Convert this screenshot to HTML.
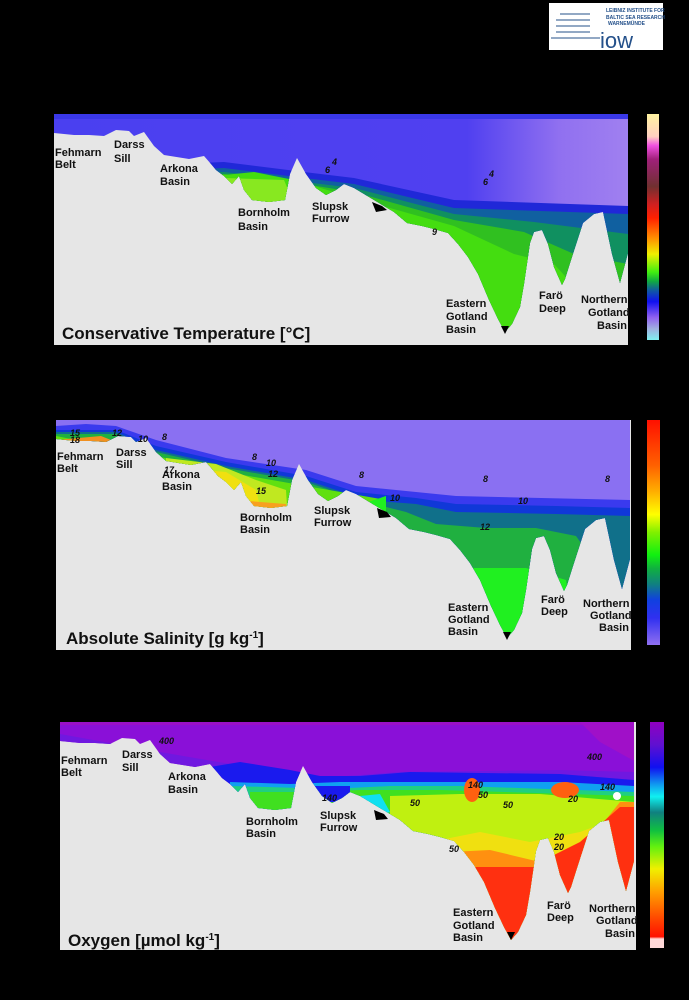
<!DOCTYPE html>
<html><head><meta charset="utf-8"><style>
html,body{margin:0;padding:0;background:#000;}
svg{display:block}
text{font-family:"Liberation Sans",Arial,sans-serif;font-weight:bold;fill:#111}
.l{font-size:11px}
.t{font-size:17px}
.c{font-size:9px;font-style:italic}
</style></head><body>
<svg width="689" height="1000" viewBox="0 0 689 1000" xmlns="http://www.w3.org/2000/svg">
<defs>
<clipPath id="water">
<path d="M0,0 L574,0 L574,139 L566,169 L558,140 L549,98 L540,100 L529,109 L517,146 L511,165 L508,171 L500,153 L494,130 L488,116 L480,118 L476,129 L470,170 L466,193 L458,210 L451,218 L444,205 L435,186 L424,160 L414,143 L404,130 L394,119 L380,115 L368,112 L353,109 L340,98 L325,89 L310,80 L300,74 L290,70 L282,76 L272,81 L262,74 L252,60 L243,44 L236,60 L231,86 L215,88 L198,86 L190,76 L185,62 L178,70 L170,62 L162,56 L157,50 L150,42 L135,45 L110,41 L100,32 L90,18 L80,22 L75,17 L62,16 L50,22 L35,21 L20,21 L0,19 Z"/>
</clipPath>
<linearGradient id="cb1" x1="0" y1="0" x2="0" y2="1">
<stop offset="0" stop-color="#fff3a0"/><stop offset=".1" stop-color="#ffd0c0"/><stop offset=".14" stop-color="#f050e0"/><stop offset=".2" stop-color="#a0207a"/><stop offset=".32" stop-color="#703030"/><stop offset=".4" stop-color="#d02020"/><stop offset=".46" stop-color="#ff2000"/><stop offset=".55" stop-color="#ff9000"/><stop offset=".62" stop-color="#f0f000"/><stop offset=".7" stop-color="#40ee10"/><stop offset=".74" stop-color="#10aa40"/><stop offset=".78" stop-color="#105aa0"/><stop offset=".83" stop-color="#1010f0"/><stop offset=".9" stop-color="#9060f0"/><stop offset=".95" stop-color="#a0b0e0"/><stop offset="1" stop-color="#80f0f0"/>
</linearGradient>
<linearGradient id="cb2" x1="0" y1="0" x2="0" y2="1">
<stop offset="0" stop-color="#ff1000"/><stop offset=".2" stop-color="#ff6000"/><stop offset=".32" stop-color="#ffb000"/><stop offset=".42" stop-color="#ffff00"/><stop offset=".5" stop-color="#80f000"/><stop offset=".6" stop-color="#10f010"/><stop offset=".66" stop-color="#10b040"/><stop offset=".73" stop-color="#108080"/><stop offset=".8" stop-color="#1040e0"/><stop offset=".88" stop-color="#3030f0"/><stop offset="1" stop-color="#9070f0"/>
</linearGradient>
<linearGradient id="cb3" x1="0" y1="0" x2="0" y2="1">
<stop offset="0" stop-color="#9000c0"/><stop offset=".1" stop-color="#6010d0"/><stop offset=".2" stop-color="#1010f0"/><stop offset=".28" stop-color="#10a0f0"/><stop offset=".33" stop-color="#10f0f0"/><stop offset=".4" stop-color="#108080"/><stop offset=".48" stop-color="#10c040"/><stop offset=".55" stop-color="#60f010"/><stop offset=".65" stop-color="#f0f000"/><stop offset=".75" stop-color="#ffa000"/><stop offset=".88" stop-color="#ff4000"/><stop offset=".95" stop-color="#ff1000"/><stop offset=".96" stop-color="#ffd8d8"/><stop offset="1" stop-color="#ffd8d8"/>
</linearGradient>
<linearGradient id="top1" x1="0" y1="0" x2="1" y2="0"><stop offset="0" stop-color="#4a40f0"/><stop offset=".72" stop-color="#5040f0"/><stop offset=".88" stop-color="#9070f0"/><stop offset="1" stop-color="#a080f0"/></linearGradient>
</defs>
<rect x="549" y="3" width="114" height="47" fill="#fff"/>
<text x="606" y="12" style="font-size:5px;fill:#24508a">LEIBNIZ INSTITUTE FOR</text>
<text x="606" y="19" style="font-size:5px;fill:#24508a">BALTIC SEA RESEARCH</text>
<text x="608" y="25" style="font-size:5px;fill:#24508a">WARNEMÜNDE</text>
<text x="600" y="48" style="font-size:22px;font-weight:normal;fill:#24508a">iow</text>
<g stroke="#24508a" stroke-width="1"><line x1="551" y1="38" x2="600" y2="38"/><line x1="556" y1="32" x2="590" y2="32"/><line x1="556" y1="26" x2="590" y2="26"/><line x1="556" y1="20" x2="590" y2="20"/><line x1="560" y1="14" x2="590" y2="14"/></g>

<!-- Panel 1 -->
<g transform="translate(54,114)">
<rect width="574" height="231" fill="#e6e6e6"/>
<g clip-path="url(#water)">
<rect width="574" height="231" fill="url(#top1)"/>
<path d="M0,0 L574,0 L574,5 L0,5Z" fill="#3a38e8"/>
<path d="M120,50 L170,48 L250,58 L300,64 L400,86 L574,92 L574,231 L120,231Z" fill="#2028d8"/>
<path d="M120,56 L170,54 L250,64 L300,70 L400,94 L574,100 L574,231 L120,231Z" fill="#1060a0"/>
<path d="M120,60 L170,58 L250,68 L300,74 L400,100 L480,108 L574,120 L574,231 L120,231Z" fill="#109060"/>
<path d="M120,62 L170,60 L250,70 L300,78 L400,106 L470,118 L520,140 L574,150 L574,231 L120,231Z" fill="#30c020"/>
<path d="M160,62 L200,58 L240,66 L300,84 L400,112 L460,140 L500,150 L574,231 L120,231Z" fill="#44dd10"/>
<path d="M170,64 L230,66 L240,90 L170,90Z" fill="#88e820"/>
</g>
<path d="M318,88 L328,92 L333,96 L322,98 Z" fill="#000"/>
<path d="M447,212 L455,212 L451,220Z" fill="#000"/>
<text class="c" x="278" y="51">4</text><text class="c" x="271" y="59">6</text>
<text class="c" x="435" y="63">4</text><text class="c" x="429" y="71">6</text><text class="c" x="378" y="121">9</text>
<text class="l" x="1" y="42">Fehmarn</text><text class="l" x="1" y="54">Belt</text>
<text class="l" x="60" y="34">Darss</text><text class="l" x="60" y="48">Sill</text>
<text class="l" x="106" y="58">Arkona</text><text class="l" x="106" y="71">Basin</text>
<text class="l" x="184" y="102">Bornholm</text><text class="l" x="184" y="116">Basin</text>
<text class="l" x="258" y="96">Slupsk</text><text class="l" x="258" y="108">Furrow</text>
<text class="l" x="392" y="193">Eastern</text><text class="l" x="392" y="206">Gotland</text><text class="l" x="392" y="219">Basin</text>
<text class="l" x="485" y="185">Farö</text><text class="l" x="485" y="198">Deep</text>
<text class="l" x="527" y="189">Northern</text><text class="l" x="534" y="202">Gotland</text><text class="l" x="543" y="215">Basin</text>
<text class="t" x="8" y="225">Conservative Temperature [°C]</text>
</g>
<rect x="647" y="114" width="12" height="226" fill="url(#cb1)"/>

<!-- Panel 2 -->
<g transform="translate(56,420)">
<rect width="575" height="230" fill="#e6e6e6"/>
<g clip-path="url(#water)">
<rect width="575" height="231" fill="#8a70f2"/>
<path d="M0,6 L30,4 L60,6 L100,20 L170,38 L250,50 L300,66 L400,76 L574,80 L574,231 L0,231Z" fill="#3a3aee"/>
<path d="M0,10 L60,10 L100,26 L170,42 L250,56 L300,72 L360,78 L400,84 L500,86 L574,88 L574,231 L0,231Z" fill="#1038d8"/>
<path d="M0,12 L60,12 L100,30 L170,46 L250,60 L310,80 L360,84 L400,92 L500,94 L574,96 L574,231 L0,231Z" fill="#10708a"/>
<path d="M0,14 L60,14 L100,32 L170,48 L250,62 L310,82 L350,92 L380,104 L430,108 L480,108 L520,116 L530,130 L540,231 L0,231Z" fill="#20b040"/>
<path d="M0,16 L100,36 L170,52 L250,66 L330,80 L330,231 L0,231Z" fill="#60e010"/>
<path d="M380,150 L420,148 L470,148 L510,160 L520,231 L380,231Z" fill="#20f020"/>
<path d="M110,38 L160,44 L200,60 L230,70 L240,231 L110,231Z" fill="#c0e820"/>
<path d="M100,46 L170,52 L200,70 L240,231 L100,231Z" fill="#f0e010"/>
<path d="M180,80 L230,84 L240,231 L180,231Z" fill="#f8a020"/>
<path d="M0,20 L45,16 L60,22 L60,231 L0,231Z" fill="#f09020"/>
<path d="M0,22 L40,22 L45,40 L0,40Z" fill="#f06020"/>
<path d="M300,86 L330,76 L330,100 L300,100Z" fill="#20f020"/>
</g>
<path d="M321,88 L331,92 L335,97 L323,98 Z" fill="#000"/>
<path d="M447,212 L455,212 L451,220Z" fill="#000"/>
<text class="c" x="14" y="16">15</text><text class="c" x="14" y="23">18</text><text class="c" x="56" y="16">12</text><text class="c" x="82" y="22">10</text><text class="c" x="106" y="20">8</text>
<text class="c" x="108" y="53">17</text><text class="c" x="196" y="40">8</text><text class="c" x="210" y="46">10</text><text class="c" x="212" y="57">12</text><text class="c" x="200" y="74">15</text>
<text class="c" x="303" y="58">8</text><text class="c" x="334" y="81">10</text><text class="c" x="427" y="62">8</text><text class="c" x="462" y="84">10</text><text class="c" x="424" y="110">12</text><text class="c" x="549" y="62">8</text>
<text class="l" x="1" y="40">Fehmarn</text><text class="l" x="1" y="52">Belt</text>
<text class="l" x="60" y="36">Darss</text><text class="l" x="60" y="48">Sill</text>
<text class="l" x="106" y="58">Arkona</text><text class="l" x="106" y="70">Basin</text>
<text class="l" x="184" y="101">Bornholm</text><text class="l" x="184" y="113">Basin</text>
<text class="l" x="258" y="94">Slupsk</text><text class="l" x="258" y="106">Furrow</text>
<text class="l" x="392" y="191">Eastern</text><text class="l" x="392" y="203">Gotland</text><text class="l" x="392" y="215">Basin</text>
<text class="l" x="485" y="183">Farö</text><text class="l" x="485" y="195">Deep</text>
<text class="l" x="527" y="187">Northern</text><text class="l" x="534" y="199">Gotland</text><text class="l" x="543" y="211">Basin</text>
<text class="t" x="10" y="224">Absolute Salinity [g kg<tspan dy="-6" style="font-size:10px">-1</tspan><tspan dy="6">]</tspan></text>
</g>
<rect x="647" y="420" width="13" height="225" fill="url(#cb2)"/>

<!-- Panel 3 -->
<g transform="translate(60,722)">
<rect width="576" height="228" fill="#e6e6e6"/>
<g clip-path="url(#water)">
<rect width="576" height="231" fill="#8a10d8"/>
<path d="M0,0 L576,0 L576,3 L0,3Z" fill="#9a10c8"/>
<path d="M520,0 L576,0 L576,40 L540,20Z" fill="#a010c8"/>
<path d="M0,12 L100,30 L170,42 L260,56 L340,50 L500,48 L574,50 L574,231 L0,231Z" fill="#7018e0"/>
<path d="M150,45 L180,40 L230,48 L260,54 L300,54 L350,50 L500,52 L574,58 L574,231 L150,231Z" fill="#1a1aee"/>
<path d="M170,60 L230,62 L280,60 L330,60 L400,60 L500,60 L574,64 L574,231 L170,231Z" fill="#10a0f0"/>
<path d="M170,64 L240,66 L290,66 L330,64 L400,64 L574,70 L574,231 L170,231Z" fill="#20d080"/>
<path d="M190,70 L250,70 L300,68 L380,68 L574,74 L574,231 L190,231Z" fill="#40e020"/>
<path d="M330,74 L400,72 L480,72 L574,80 L574,231 L330,231Z" fill="#c0f010"/>
<path d="M370,120 L420,110 L470,120 L520,110 L574,90 L574,231 L370,231Z" fill="#f0e010"/>
<path d="M390,130 L430,128 L480,140 L520,130 L560,80 L574,80 L574,231 L390,231Z" fill="#ff9010"/>
<path d="M400,145 L480,145 L490,135 L520,120 L560,85 L574,85 L574,231 L400,231Z" fill="#ff3010"/>
<path d="M240,64 L290,64 L290,80 L240,80Z" fill="#1a1aee"/>
<path d="M300,74 L320,72 L330,90 L310,96Z" fill="#10e0f0"/>
<ellipse cx="412" cy="68" rx="8" ry="12" fill="#ff6010"/>
<ellipse cx="505" cy="68" rx="14" ry="8" fill="#ff6010"/>
</g>
<path d="M314,88 L324,92 L328,97 L316,98 Z" fill="#000"/>
<path d="M447,210 L455,210 L451,218Z" fill="#000"/>
<circle cx="557" cy="74" r="4" fill="#fff"/>
<text class="c" x="99" y="22">400</text><text class="c" x="527" y="38">400</text>
<text class="c" x="408" y="66">140</text><text class="c" x="418" y="76">50</text><text class="c" x="350" y="84">50</text><text class="c" x="443" y="86">50</text>
<text class="c" x="262" y="79">140</text><text class="c" x="540" y="68">140</text><text class="c" x="508" y="80">20</text><text class="c" x="494" y="118">20</text><text class="c" x="494" y="128">20</text><text class="c" x="389" y="130">50</text>
<text class="l" x="1" y="42">Fehmarn</text><text class="l" x="1" y="54">Belt</text>
<text class="l" x="62" y="36">Darss</text><text class="l" x="62" y="49">Sill</text>
<text class="l" x="108" y="58">Arkona</text><text class="l" x="108" y="71">Basin</text>
<text class="l" x="186" y="103">Bornholm</text><text class="l" x="186" y="115">Basin</text>
<text class="l" x="260" y="97">Slupsk</text><text class="l" x="260" y="109">Furrow</text>
<text class="l" x="393" y="194">Eastern</text><text class="l" x="393" y="207">Gotland</text><text class="l" x="393" y="219">Basin</text>
<text class="l" x="487" y="187">Farö</text><text class="l" x="487" y="199">Deep</text>
<text class="l" x="529" y="190">Northern</text><text class="l" x="536" y="202">Gotland</text><text class="l" x="545" y="215">Basin</text>
<text class="t" x="8" y="224">Oxygen [µmol kg<tspan dy="-6" style="font-size:10px">-1</tspan><tspan dy="6">]</tspan></text>
</g>
<rect x="650" y="722" width="14" height="226" fill="url(#cb3)"/>
</svg>
</body></html>
